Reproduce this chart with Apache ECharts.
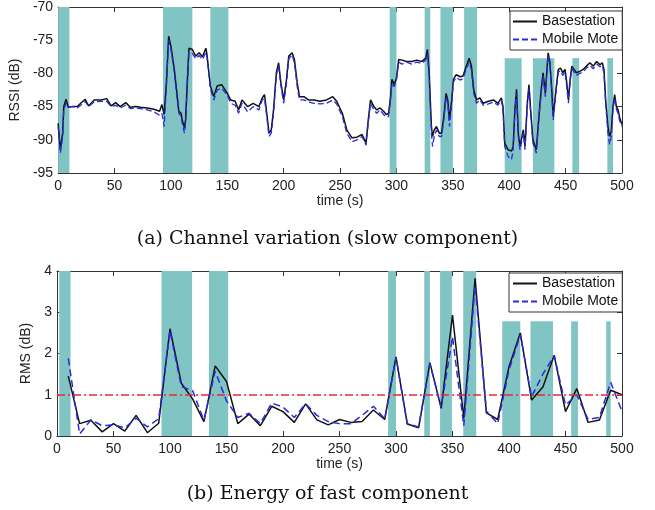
<!DOCTYPE html>
<html>
<head>
<meta charset="utf-8">
<script src="https://cdn.jsdelivr.net/npm/echarts@6/dist/echarts.min.js"></script>
<style>
html,body{margin:0;padding:0;background:#fff;}
#chart{width:655px;height:510px;}
</style>
</head>
<body>
<div id="chart"></div>
<script>
// ---------- Data: (a) slow component, RSSI (dB) ----------
const topTime = [
 0, 2, 4, 5, 7, 9, 13, 17, 20, 24,
 27, 32, 38, 43, 47, 51, 55, 60, 64, 69,
 73, 79, 85, 90, 92, 94, 96, 98, 100, 103,
 105, 107, 109, 110, 112, 113, 114.5, 116, 119, 122,
 125, 128, 131, 132, 135, 138, 141, 145, 150, 153,
 157, 160, 163, 168, 173, 178, 181, 183, 185, 187,
 189, 191, 193.5, 195.5, 197.5, 200, 202.5, 204.5, 207.5, 209.5,
 212, 214, 218, 222, 227, 232, 238, 243.5, 247, 252,
 256, 260.5, 265, 269.5, 273, 275, 277, 280, 282.5, 285.5,
 288.5, 291, 293, 294.5, 296, 298, 300, 302, 305, 309,
 313.5, 318, 322.5, 326, 327.5, 329, 331, 332, 333.5, 335.5,
 338, 340, 342, 344, 345.5, 347, 349, 350.5, 353, 356.5,
 359, 362, 364.5, 366.5, 368.5, 371, 374, 377, 381.5, 386,
 390, 393, 394.5, 396, 399, 402, 403.5, 405, 406.5, 408,
 409.5, 412.5, 414, 416, 417.5, 419, 421, 424, 425.5, 427,
 428.5, 430, 432, 434.5, 436, 437.5, 439, 441.5, 443.5, 445.5,
 447.5, 449.5, 451, 452.5, 454, 455.5, 457.5, 459.5, 462.5, 465.5,
 468.5, 471.5, 474.5, 477.5, 480.5, 482.5, 484, 485.5, 487.5, 489,
 490.5, 492, 493.5, 495, 496.5, 498, 500
];
const baseRssi = [
 -87.5, -91.5, -89, -85, -83.9, -85.1, -85, -85, -84.5, -83.9,
 -84.9, -84, -84, -83.8, -84.9, -84.4, -85, -84.4, -85.1, -85,
 -85.1, -85.2, -85.4, -85.7, -84.7, -86.2, -81.4, -74.4, -75.9, -79.4,
 -82.5, -85.7, -86, -87, -88.2, -87, -81.4, -76.2, -76.4, -77.4,
 -76.9, -77.5, -76.2, -77.2, -81.9, -83.5, -81.9, -81.7, -83, -84,
 -84.2, -85.5, -84, -85, -84.5, -85, -83.7, -83.2, -86, -89,
 -88.5, -85.5, -79.9, -78.4, -81.4, -84, -80.9, -77.4, -76.9, -77.9,
 -81.4, -83.5, -83.5, -84, -84, -84.2, -84, -83.5, -84.2, -86,
 -88.5, -89.7, -89.6, -89.2, -90.5, -87, -84, -85, -85.5, -85.2,
 -85.7, -86.2, -86, -84, -80.9, -81.7, -80.7, -77.9, -78, -78.2,
 -78.2, -78, -78.2, -77.7, -76.4, -79.9, -88, -89.5, -88.5, -88,
 -89, -89, -86.5, -83, -84, -87, -84, -80.9, -80.2, -80.5,
 -80.4, -78.9, -77.7, -78.9, -82.4, -84, -83.7, -84.5, -84.2, -84,
 -84.5, -83.7, -85, -90.5, -91.5, -91.7, -91, -85.5, -82.4, -89,
 -91, -88.5, -91, -84.5, -81.7, -85.5, -90, -91.5, -91.7, -85,
 -82.2, -79.9, -83, -76.9, -78.2, -81.9, -86.5, -82.4, -79.4, -79.2,
 -79.9, -79.4, -81.4, -84, -80.9, -78.9, -79.4, -79.9, -79.7, -79.4,
 -78.9, -78.4, -78.9, -78.2, -78.7, -78.4, -79.4, -84, -88, -89.5,
 -88.7, -85, -83.2, -85, -85.5, -86.7, -87.7
];
const moteRssi = [
 -88, -92, -89.5, -85.5, -84.5, -85, -85, -85.2, -84.8, -84.2,
 -85, -84.3, -84.2, -84.2, -85, -84.8, -85.2, -84.8, -85.3, -85.2,
 -85.3, -85.5, -85.8, -86.3, -86, -88, -82, -75, -76.3, -79.8,
 -83, -86, -86.5, -87.5, -89, -87.5, -82, -76.8, -77, -77.8,
 -77.3, -77.9, -76.8, -77.5, -82.3, -84, -82.5, -82.2, -83.3, -84.5,
 -84.8, -86, -84.5, -85.8, -85, -85.5, -84, -83.8, -86.5, -89.5,
 -89, -86, -80.3, -78.8, -81.8, -84.5, -81.5, -77.8, -77.2, -78.4,
 -82, -84, -84, -84.3, -84.5, -84.6, -84.5, -84, -84.6, -86.5,
 -89, -90.3, -90, -89.5, -90.8, -87.5, -84.5, -85.5, -86, -85.5,
 -86.2, -86.6, -86.5, -84.5, -81.5, -82, -81, -78.3, -78.6, -78.3,
 -78.6, -78.3, -78.5, -78, -77, -80.5, -89, -91, -89.5, -88.5,
 -89.5, -89.5, -87, -83.5, -84.5, -88, -84.5, -81.3, -80.6, -81,
 -80.8, -79.3, -78.3, -79.5, -83, -84.5, -84, -84.8, -84.6, -84.3,
 -84.8, -84, -85.5, -91, -92.5, -93, -91.5, -86, -83, -89.5,
 -91.5, -89, -91.5, -85, -82.3, -86, -90.5, -92, -92.3, -85.5,
 -82.8, -80.4, -83.5, -77.3, -78.7, -82.3, -87, -82.8, -79.8, -79.6,
 -80.3, -79.8, -82, -84.5, -81.3, -79.3, -79.8, -80.3, -80, -79.8,
 -79.2, -78.8, -79.3, -78.6, -79, -78.8, -80, -84.5, -89, -90.7,
 -89.5, -85.5, -83.7, -85.4, -86, -87.2, -88
];
// shaded intervals [start, end, low, high]
const topShade = [
 [0, 10, -95, -70], [93, 119, -95, -70], [135, 151, -95, -70],
 [294, 300, -95, -70], [325, 330, -95, -70], [339, 350, -95, -70], [360, 371.5, -95, -70],
 [396, 411, -95, -77.7], [421, 440, -95, -77.7], [456, 462, -95, -77.7], [487, 492, -95, -77.7]
];

// ---------- Data: (b) fast component energy, RMS (dB) ----------
const rmsTime = [10,20,30,40,50,60,70,80,90,100,110,120,130,140,150,160,170,180,190,200,
 210,220,230,240,250,260,270,280,290,300,310,320,330,340,350,360,370,380,390,400,
 410,420,430,440,450,460,470,480,490,500];
const baseRms = [1.45,0.3,0.38,0.1,0.3,0.12,0.5,0.08,0.31,2.6,1.28,0.9,0.35,1.7,1.32,0.3,0.53,0.25,0.72,0.59,
 0.33,0.78,0.39,0.27,0.4,0.33,0.35,0.63,0.4,1.92,0.29,0.2,1.78,0.67,2.93,0.43,3.82,0.56,0.4,1.68,
 2.5,0.87,1.19,1.96,0.59,1.15,0.33,0.39,1.11,1.0];
const moteRms = [1.88,0.05,0.39,0.25,0.27,0.2,0.43,0.22,0.42,2.55,1.2,1.1,0.38,1.57,0.85,0.45,0.55,0.3,0.8,0.7,
 0.45,0.78,0.5,0.35,0.3,0.3,0.5,0.72,0.42,1.9,0.3,0.22,1.75,0.7,2.4,0.25,3.65,0.6,0.3,1.6,
 2.45,0.95,1.5,1.95,0.75,1.0,0.4,0.45,1.3,0.6];
const bottomShade = [
 [2, 12, 0, 4], [92.5, 119.5, 0, 4], [134.5, 151.5, 0, 4],
 [293, 300, 0, 4], [325, 330, 0, 4], [339, 349.5, 0, 4], [359.5, 371, 0, 4],
 [394, 410, 0, 2.78], [419, 439, 0, 2.78], [455, 461, 0, 2.78], [486, 490, 0, 2.78]
];
const rmsThreshold = 1;
const seriesNames = ['Basestation', 'Mobile Mote'];

const xTicks = {min: 0, max: 500, interval: 50};
const topY = {min: -95, max: -70, interval: 5};
const botY = {min: 0, max: 4, interval: 1};

// ---------- Styling ----------
const shadeColor = '#80c4c4';
const axisColor = '#333';
function labelFont() { return {fontFamily: 'Liberation Sans, Arial, sans-serif', fontSize: 14, color: '#222'}; }

function xAx(grid, pos, showLabel) {
  return {
    gridIndex: grid, type: 'value', position: pos, min: xTicks.min, max: xTicks.max, interval: xTicks.interval,
    axisLine: {show: true, onZero: false, lineStyle: {color: axisColor, width: 1}},
    axisTick: {show: true, inside: true, length: 5, lineStyle: {color: axisColor}},
    axisLabel: Object.assign({show: showLabel, margin: 6}, labelFont()),
    splitLine: {show: false},
    name: showLabel ? 'time (s)' : '', nameLocation: 'middle', nameGap: 20,
    nameTextStyle: labelFont()
  };
}
function yAx(grid, pos, showLabel, cfg, name, gap) {
  return {
    gridIndex: grid, type: 'value', position: pos, min: cfg.min, max: cfg.max, interval: cfg.interval,
    axisLine: {show: true, onZero: false, lineStyle: {color: axisColor, width: 1}},
    axisTick: {show: true, inside: true, length: 5, lineStyle: {color: axisColor}},
    axisLabel: Object.assign({show: showLabel, margin: 5}, labelFont()),
    splitLine: {show: false},
    name: showLabel ? name : '', nameLocation: 'middle', nameGap: gap,
    nameTextStyle: labelFont()
  };
}
function shadeRender(params, api) {
  const p0 = api.coord([api.value(0), api.value(3)]);
  const p1 = api.coord([api.value(1), api.value(2)]);
  return {type: 'rect', shape: {x: p0[0], y: p0[1], width: p1[0] - p0[0], height: p1[1] - p0[1]},
          style: {fill: shadeColor}};
}
const zip = (a, b) => a.map((t, i) => [t, b[i]]);
function makeLegend(left, top, padLeft) {
  return {
    show: true, data: seriesNames.slice(), orient: 'vertical', left: left, top: top,
    padding: [3.5, 4, 3.5, padLeft],
    itemWidth: 24, itemHeight: 14, itemGap: 4,
    borderColor: '#333', borderWidth: 1, backgroundColor: '#fff',
    itemStyle: {opacity: 0},
    textStyle: {fontFamily: 'Liberation Sans, Arial, sans-serif', fontSize: 14, color: '#111'}
  };
}
function titleFont() { return {fontFamily: 'DejaVu Serif, serif', fontSize: 19, fontWeight: 'normal', color: '#111'}; }

function lineSeries(name, xi, data, color, width, dash) {
  return {
    name: name, type: 'line', xAxisIndex: xi, yAxisIndex: xi, z: dash ? 4 : 3,
    showSymbol: false, symbolSize: 0,
    lineStyle: {color: color, width: width, type: dash || 'solid'}, itemStyle: {color: color},
    data: data
  };
}

const chart = echarts.init(document.getElementById('chart'), null, {renderer: 'canvas'});
const baseBottom = lineSeries(seriesNames[0], 2, zip(rmsTime, baseRms), '#111', 1.5, null);
baseBottom.markLine = {silent: true, symbol: ['none', 'none'], label: {show: false},
  lineStyle: {color: '#e3283a', width: 1.5, type: [8, 3, 2, 3]}, data: [{yAxis: rmsThreshold}]};

chart.setOption({
  animation: false,
  backgroundColor: '#fff',
  title: [
    {text: '(a) Channel variation (slow component)', left: 'center', top: 225, textStyle: titleFont()},
    {text: '(b) Energy of fast component', left: 'center', top: 480, textStyle: titleFont()}
  ],
  grid: [
    {left: 57, top: 7, width: 565, height: 166},
    {left: 57, top: 271, width: 565, height: 165}
  ],
  xAxis: [xAx(0, 'bottom', true), xAx(0, 'top', false), xAx(1, 'bottom', true), xAx(1, 'top', false)],
  yAxis: [
    yAx(0, 'left', true, topY, 'RSSI (dB)', 28), yAx(0, 'right', false, topY, '', 0),
    yAx(1, 'left', true, botY, 'RMS (dB)', 15), yAx(1, 'right', false, botY, '', 0)
  ],
  legend: [makeLegend(510, 11, 2), makeLegend(509, 273, 3)],
  series: [
    {type: 'custom', xAxisIndex: 0, yAxisIndex: 0, z: 1, silent: true, renderItem: shadeRender,
     encode: {x: [0, 1], y: [2, 3]}, data: topShade},
    {type: 'custom', xAxisIndex: 2, yAxisIndex: 2, z: 1, silent: true, renderItem: shadeRender,
     encode: {x: [0, 1], y: [2, 3]}, data: bottomShade},
    lineSeries(seriesNames[0], 0, zip(topTime, baseRssi), '#111', 1.5, null),
    lineSeries(seriesNames[1], 0, zip(topTime, moteRssi), '#2a2ae0', 1.3, [6, 3]),
    baseBottom,
    lineSeries(seriesNames[1], 2, zip(rmsTime, moteRms), '#2a2ae0', 1.5, [7, 4])
  ]
});
</script>
</body>
</html>
